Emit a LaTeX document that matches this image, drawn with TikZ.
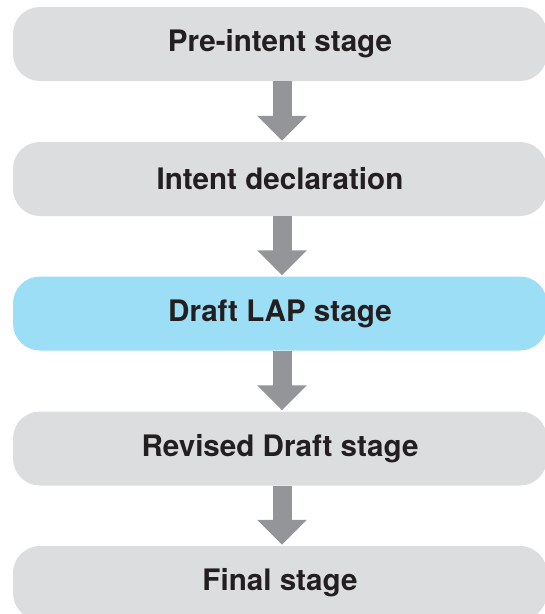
\documentclass[tikz,border=0pt]{standalone}
\usepackage{fontspec}
\setmainfont{TeX Gyre Heros}
\usetikzlibrary{arrows.meta}
\definecolor{stagegray}{HTML}{DCDDDE}
\definecolor{stageblue}{HTML}{9BDEF6}
\definecolor{arrowgray}{HTML}{939598}
\definecolor{stagetext}{HTML}{231F20}
\tikzset{
  stagebox/.style={fill=stagegray, draw=none, rounded corners=27pt,
    minimum width=534pt, minimum height=74pt, inner sep=0pt,
    font=\fontsize{29.6}{33}\selectfont\bfseries, text=stagetext},
  current/.style={fill=stageblue},
  flow/.style={draw=arrowgray, line width=19pt,
    -{Triangle[width=48pt,length=25pt]}, shorten >=1pt}
}
\begin{document}
\begin{tikzpicture}[x=1pt,y=1pt]
  \useasboundingbox (0,0) rectangle (545,-614);
  \clip (0,0) rectangle (545,-614);
  \node[stagebox] (pre) at (280,-44) {Pre-intent stage};
  \node[stagebox] (intent) at (280,-179) {Intent declaration};
  \node[stagebox, current] (draft) at (280,-313.5) {Draft LAP stage};
  \node[stagebox] (revised) at (280,-448.5) {Revised Draft stage};
  \node[stagebox] (final) at (280,-583) {Final stage};
  \draw[flow] ([xshift=2pt]pre.south) -- ([xshift=2pt]intent.north);
  \draw[flow] ([xshift=2pt]intent.south) -- ([xshift=2pt]draft.north);
  \draw[flow] ([xshift=2pt]draft.south) -- ([xshift=2pt]revised.north);
  \draw[flow] ([xshift=2pt]revised.south) -- ([xshift=2pt]final.north);
\end{tikzpicture}
\end{document}
